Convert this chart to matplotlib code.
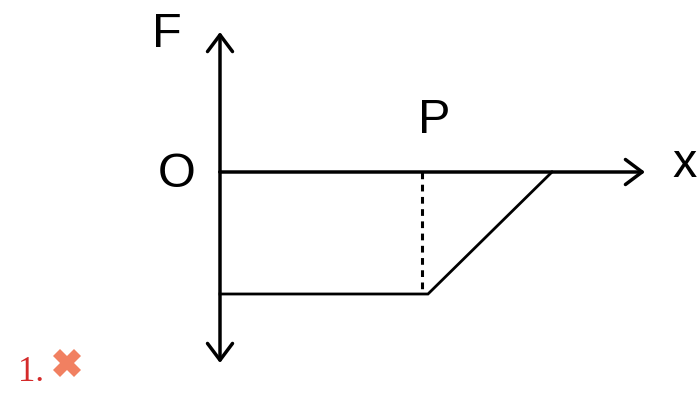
import matplotlib
matplotlib.use("Agg")
import matplotlib.pyplot as plt

# sketch data, units = pixels measured from origin O
curve_x = [0, 208, 332]
curve_F = [-122, -122, 0]
p_x = 202
p_F = -122
x_axis_end = 425
F_axis_top = 140
F_axis_bottom = -191

labels = ["F", "O", "P", "x"]
label_pos = [(-53, 125), (-43, -15), (214, 39), (465, -5)]

fig = plt.figure(figsize=(6.98, 3.99), dpi=100)
ax = fig.add_axes([0, 0, 1, 1])
ax.set_xlim(-220, 478)
ax.set_ylim(-227, 172)
ax.axis("off")

arrow = dict(arrowstyle="->,head_length=1.2,head_width=0.9", lw=2.5, color="black",
             shrinkA=0, shrinkB=0)
# axes with arrows
ax.annotate("", xy=(x_axis_end, 0), xytext=(0, 0), arrowprops=arrow)
ax.annotate("", xy=(0, F_axis_top), xytext=(0, 0), arrowprops=arrow)
ax.annotate("", xy=(0, F_axis_bottom), xytext=(0, 0), arrowprops=arrow)

# F(x) curve
ax.plot(curve_x, curve_F, color="black", lw=2.0, solid_joinstyle="miter")
# dashed drop from P
ax.plot([p_x, p_x], [0, p_F], color="black", lw=2.2, linestyle=(0, (2.2, 1.8)))

for t, (lx, ly) in zip(labels, label_pos):
    ax.text(lx, ly, t, fontsize=35, family="Liberation Sans", ha="center",
            va="baseline", color="black")

# question number and mark
ax.text(-202, -209, "1.", fontsize=25, family="Liberation Serif", color="#d42a2a",
        ha="left", va="baseline")
ax.plot([-153], [-191], marker="X", markersize=20, color="#ef6a45", alpha=0.85,
        markeredgewidth=0)

fig.savefig("out.png", dpi=100)
